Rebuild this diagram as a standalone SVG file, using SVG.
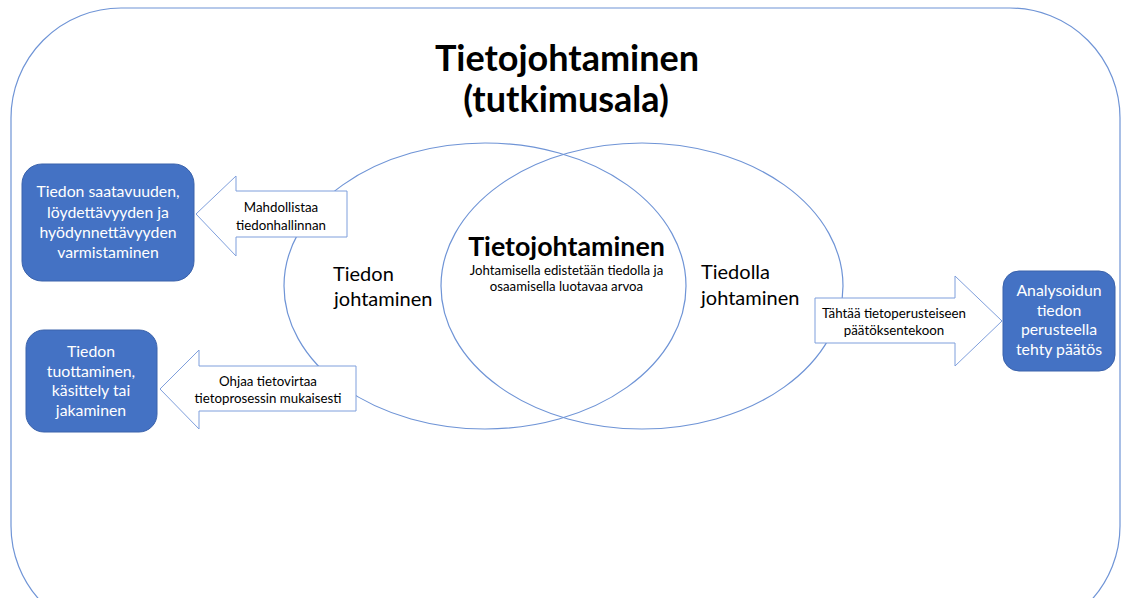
<svg xmlns="http://www.w3.org/2000/svg" width="1122" height="598" viewBox="0 0 1122 598">
<style>
.line{fill:none;stroke:#6f94d6;stroke-width:1.2}
.arrow{fill:#fff;stroke:#7f9fdc;stroke-width:1}
.box{fill:#4472c4;stroke:#3a62ab;stroke-width:1}
.bt{font-family:Lato,"Open Sans",sans-serif;font-size:15.8px;fill:#fff;text-anchor:middle}
.at{font-family:Lato,"Open Sans",sans-serif;font-size:13.3px;fill:#000;text-anchor:middle}
.ct{font-family:Lato,"Open Sans",sans-serif;font-size:20px;fill:#000}
</style>
<rect width="1122" height="598" fill="#fff"/>
<g id="frame">
<rect class="line" x="11" y="8" width="1109" height="628" rx="110" ry="110"/>
<text x="567" y="71" font-family="Lato,'Open Sans',sans-serif" font-size="36" font-weight="bold" text-anchor="middle">Tietojohtaminen</text>
<text x="566" y="112" font-family="Lato,'Open Sans',sans-serif" font-size="36" font-weight="bold" text-anchor="middle">(tutkimusala)</text>
</g>
<g id="venn">
<ellipse class="line" cx="485" cy="286" rx="201" ry="143"/>
<ellipse class="line" cx="642" cy="286" rx="201" ry="143"/>
<text class="ct" x="333" y="281">Tiedon</text>
<text class="ct" x="334" y="306">johtaminen</text>
<text class="ct" x="701" y="279">Tiedolla</text>
<text class="ct" x="701" y="305">johtaminen</text>
<text x="566.5" y="256" font-family="Lato,'Open Sans',sans-serif" font-size="26.8" font-weight="bold" text-anchor="middle">Tietojohtaminen</text>
<text x="566.5" y="275" font-family="Lato,'Open Sans',sans-serif" font-size="13.2" text-anchor="middle">Johtamisella edistetään tiedolla ja</text>
<text x="566.5" y="291" font-family="Lato,'Open Sans',sans-serif" font-size="13.2" text-anchor="middle">osaamisella luotavaa arvoa</text>
</g>
<g id="connectors">
<g id="arrow1">
<polygon class="arrow" points="196,214 236,176 236,191 347,191 347,237 236,237 236,256"/>
<text class="at" x="281" y="212">Mahdollistaa</text>
<text class="at" x="281" y="230">tiedonhallinnan</text>
</g>
<g id="arrow2">
<polygon class="arrow" points="160,389 199,350 199,366 356,366 356,411 199,411 199,429"/>
<text class="at" x="268" y="386">Ohjaa tietovirtaa</text>
<text class="at" x="268" y="403">tietoprosessin mukaisesti</text>
</g>
<g id="arrow3">
<polygon class="arrow" points="1002,321 955,276 955,298 815,298 815,343 955,343 955,366"/>
<text class="at" x="894" y="318">Tähtää tietoperusteiseen</text>
<text class="at" x="894" y="335">päätöksentekoon</text>
</g>
</g>
<g id="box1">
<rect class="box" x="22" y="164" width="172" height="117" rx="20"/>
<text class="bt" x="108" y="197">Tiedon saatavuuden,</text>
<text class="bt" x="108" y="217.5">löydettävyyden ja</text>
<text class="bt" x="108" y="238">hyödynnettävyyden</text>
<text class="bt" x="108" y="258">varmistaminen</text>
</g>
<g id="box2">
<rect class="box" x="26" y="330" width="131" height="102" rx="18"/>
<text class="bt" x="91" y="357">Tiedon</text>
<text class="bt" x="91" y="377">tuottaminen,</text>
<text class="bt" x="91" y="396">käsittely tai</text>
<text class="bt" x="91" y="416">jakaminen</text>
</g>
<g id="box3">
<rect class="box" x="1003" y="271" width="112" height="100" rx="16"/>
<text class="bt" x="1059" y="296">Analysoidun</text>
<text class="bt" x="1059" y="316">tiedon</text>
<text class="bt" x="1059" y="335">perusteella</text>
<text class="bt" x="1059" y="355">tehty päätös</text>
</g>
</svg>
